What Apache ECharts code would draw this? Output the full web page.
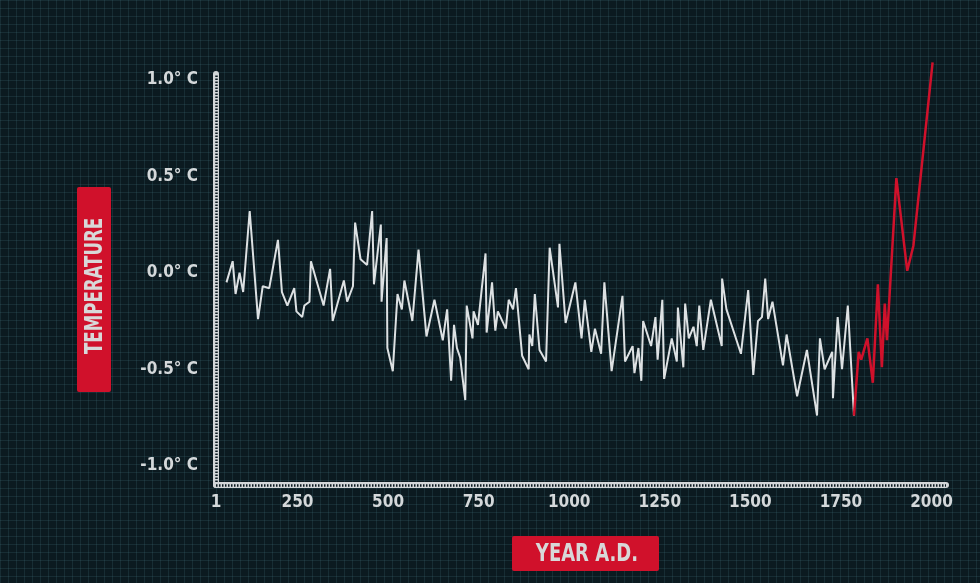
<!DOCTYPE html>
<html>
<head>
<meta charset="utf-8">
<script src="https://cdn.jsdelivr.net/npm/echarts@6/dist/echarts.min.js"></script>
<style>
  html, body { margin:0; padding:0; width:980px; height:583px; overflow:hidden; }
  body {
    background-color:#0b1a20;
    background-image:
      linear-gradient(to right, rgba(70,120,130,0.2) 1px, transparent 1px),
      linear-gradient(to bottom, rgba(70,120,130,0.2) 1px, transparent 1px);
    background-size: 8px 8px;
  }
  #chart { width:980px; height:583px; }
</style>
</head>
<body>
<div id="chart"></div>
<script>
// ---- data ----
const pastYears = [54,71,79,90,100,118,141,154,172,196,207,222,241,247,263,269,283,287,322,340,347,378,387,403,409,424,442,456,461,480,482,496,498,513,526,538,545,567,584,606,628,651,663,674,682,690,699,713,717,733,736,748,769,772,787,796,803,825,833,845,853,870,888,890,898,905,918,936,946,969,973,990,1017,1034,1043,1061,1071,1088,1097,1117,1147,1154,1175,1180,1191,1199,1204,1226,1238,1244,1257,1262,1283,1297,1300,1308,1315,1320,1330,1343,1352,1359,1370,1391,1421,1422,1434,1474,1494,1508,1521,1532,1541,1549,1561,1590,1600,1629,1656,1684,1692,1705,1726,1728,1741,1753,1769,1786];
const pastTemps = [-0.05,0.06,-0.11,0.00,-0.10,0.32,-0.24,-0.07,-0.08,0.17,-0.10,-0.17,-0.08,-0.20,-0.23,-0.17,-0.15,0.06,-0.17,0.02,-0.25,-0.04,-0.15,-0.07,0.26,0.07,0.04,0.32,-0.06,0.25,-0.15,0.18,-0.39,-0.51,-0.11,-0.19,-0.04,-0.25,0.12,-0.33,-0.14,-0.35,-0.19,-0.56,-0.27,-0.39,-0.44,-0.66,-0.17,-0.34,-0.20,-0.27,0.10,-0.31,-0.05,-0.30,-0.20,-0.29,-0.14,-0.19,-0.08,-0.43,-0.50,-0.32,-0.38,-0.11,-0.40,-0.46,0.13,-0.18,0.15,-0.26,-0.05,-0.34,-0.14,-0.41,-0.29,-0.42,-0.05,-0.51,-0.12,-0.46,-0.38,-0.52,-0.39,-0.56,-0.25,-0.38,-0.23,-0.45,-0.14,-0.55,-0.34,-0.46,-0.18,-0.35,-0.49,-0.16,-0.34,-0.28,-0.38,-0.17,-0.40,-0.14,-0.38,-0.03,-0.19,-0.42,-0.09,-0.53,-0.25,-0.23,-0.03,-0.24,-0.15,-0.48,-0.32,-0.64,-0.40,-0.74,-0.34,-0.50,-0.41,-0.65,-0.23,-0.50,-0.17,-0.74];
const modernYears = [1786,1799,1806,1823,1838,1852,1863,1871,1877,1903,1933,1950,2003];
const modernTemps = [-0.74,-0.41,-0.45,-0.34,-0.57,-0.06,-0.49,-0.16,-0.35,0.49,0.01,0.14,1.09];
const xTickValues = [25,250,500,750,1000,1250,1500,1750,2000];
const xTickLabels = ['1','250','500','750','1000','1250','1500','1750','2000'];
const yTickValues = [-1.0,-0.5,0.0,0.5,1.0];
const yAxisTitle = 'TEMPERATURE';
const xAxisTitle = 'YEAR A.D.';

// ---- chart ----
const FONT = "'Liberation Sans Narrow','DejaVu Sans Condensed','Roboto Condensed',sans-serif";
const LABEL = '#d4d8da';
const AXIS = '#d2d6d8';
const BG = '#0b1a20';
const RED = '#d0112b';

const pastData = pastYears.map((y,i)=>[y,pastTemps[i]]);
const modernData = modernYears.map((y,i)=>[y,modernTemps[i]]);

const chart = echarts.init(document.getElementById('chart'), null, {renderer:'canvas'});
const xBase = {type:'value', min:25, max:2040, position:'bottom'};
const yBase = {type:'value', min:-1.1, max:1.03, position:'left'};
chart.setOption({
  animation:false,
  backgroundColor:'transparent',
  grid:{left:216, right:34, top:74, bottom:98},
  xAxis:[
    Object.assign({}, xBase, {
      axisLine:{onZero:false, lineStyle:{color:AXIS, width:6}},
      axisTick:{show:false},
      splitLine:{show:false},
      axisLabel:{
        customValues:xTickValues,
        formatter:v=>{const i=xTickValues.indexOf(v); return i>=0?xTickLabels[i]:'';},
        color:LABEL, fontFamily:FONT, fontWeight:'bold', fontSize:17, margin:9
      }
    }),
    Object.assign({}, xBase, {
      axisLine:{onZero:false, lineStyle:{color:BG, width:2.5, type:[1.5,1.5], cap:'butt'}},
      axisTick:{show:false}, axisLabel:{show:false}, splitLine:{show:false}
    })
  ],
  yAxis:[
    Object.assign({}, yBase, {
      axisLine:{onZero:false, lineStyle:{color:AXIS, width:6}},
      axisTick:{show:false},
      splitLine:{show:false},
      axisLabel:{
        customValues:yTickValues,
        formatter:v=>v.toFixed(1)+'° C',
        color:LABEL, fontFamily:FONT, fontWeight:'bold', fontSize:17, margin:18
      }
    }),
    Object.assign({}, yBase, {
      axisLine:{onZero:false, lineStyle:{color:BG, width:2.5, type:[1.5,1.5], cap:'butt'}},
      axisTick:{show:false}, axisLabel:{show:false}, splitLine:{show:false}
    })
  ],
  series:[
    {type:'line', data:pastData, showSymbol:false, clip:false,
     lineStyle:{color:'#dde1e3', width:2}, z:3},
    {type:'line', data:modernData, showSymbol:false, clip:false,
     lineStyle:{color:RED, width:2.5}, z:4}
  ],
  graphic:[
    {type:'rect', left:77, top:187, shape:{width:34, height:205, r:2},
     style:{fill:RED}},
    {type:'text', x:95, y:286, rotation:Math.PI/2, scaleX:0.74,
     style:{text:yAxisTitle, fill:'#d8d8d8', font:"bold 25px "+FONT,
            align:'center', verticalAlign:'middle'}},
    {type:'rect', left:512, top:536, shape:{width:147, height:35, r:2},
     style:{fill:RED}},
    {type:'text', x:587, y:554, scaleX:0.8,
     style:{text:xAxisTitle, fill:'#d8d8d8', font:"bold 25px "+FONT,
            align:'center', verticalAlign:'middle'}}
  ]
});
</script>
</body>
</html>
